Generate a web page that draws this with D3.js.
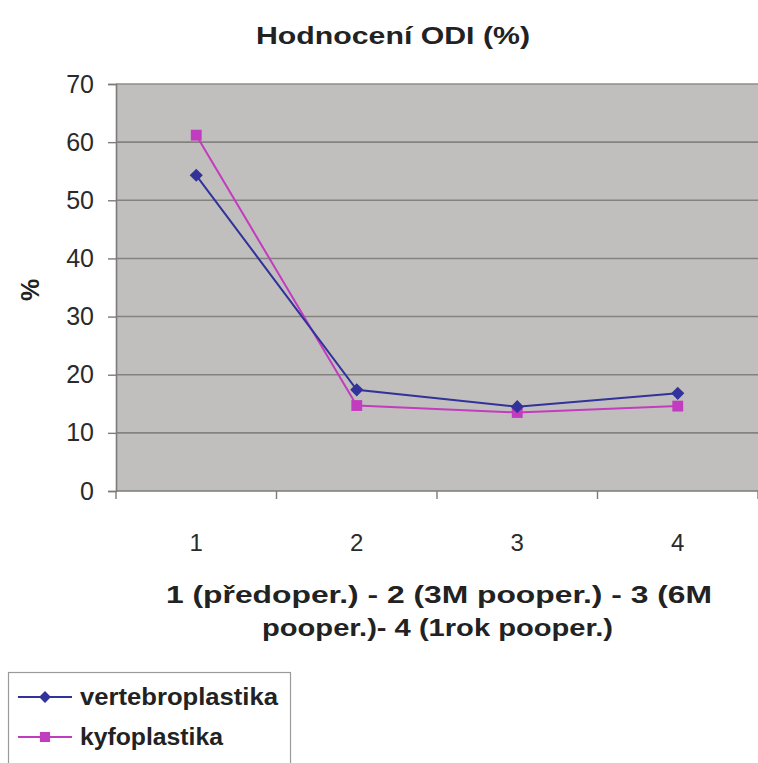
<!DOCTYPE html>
<html>
<head>
<meta charset="utf-8">
<script src="https://cdn.jsdelivr.net/npm/d3@7"></script>
<style>
  html, body { margin: 0; padding: 0; background: #fff; }
  svg { display: block; font-family: "Liberation Sans", Arial, sans-serif; }
</style>
</head>
<body>
<svg id="chart" width="758" height="763"></svg>
<script>
// ODI score (%) at four follow-up points
const categories = ["1", "2", "3", "4"];
const vertebroplastika = [54.3, 17.4, 14.5, 16.8];
const kyfoplastika = [61.2, 14.7, 13.5, 14.6];
const yTicks = [0, 10, 20, 30, 40, 50, 60, 70];
const seriesNames = ["vertebroplastika", "kyfoplastika"];

const svg = d3.select("#chart");
const plot = { left: 116, right: 758, top: 84, bottom: 491 };

const x = d3.scaleBand().domain(categories).range([plot.left, plot.right]);
const y = d3.scaleLinear().domain([0, 70]).range([plot.bottom, plot.top]);

// title (wide, stretched lettering)
svg.append("text")
  .attr("x", 256).attr("y", 44)
  .attr("font-size", 23).attr("font-weight", "bold").attr("fill", "#222")
  .attr("textLength", 274).attr("lengthAdjust", "spacingAndGlyphs")
  .text("Hodnocení ODI (%)");

// plot background
svg.append("rect")
  .attr("x", plot.left).attr("y", plot.top)
  .attr("width", plot.right - plot.left).attr("height", plot.bottom - plot.top)
  .attr("fill", "#c1bfbd");

// horizontal gridlines
svg.append("g").selectAll("line")
  .data(yTicks.filter(d => d > 0))
  .join("line")
  .attr("x1", plot.left).attr("x2", plot.right)
  .attr("y1", d => y(d)).attr("y2", d => y(d))
  .attr("stroke", d => d === 70 ? "#8f8d8b" : "#84827f")
  .attr("stroke-width", 1.6);

// y axis
const yAxis = svg.append("g")
  .attr("transform", `translate(${plot.left},0)`)
  .call(d3.axisLeft(y).tickValues(yTicks).tickSize(8).tickPadding(14).tickFormat(d3.format("d")));
yAxis.select(".domain").attr("stroke", "#7d7b79").attr("stroke-width", 1.6);
yAxis.selectAll(".tick line").attr("stroke", "#7d7b79").attr("stroke-width", 1.4);
yAxis.selectAll(".tick text")
  .attr("font-size", 25).attr("fill", "#2a2a2a")
  .attr("font-family", "Liberation Sans, Arial, sans-serif");

// x axis with ticks between categories
const xAxisG = svg.append("g").attr("transform", `translate(0,${plot.bottom})`);
xAxisG.append("line")
  .attr("x1", plot.left).attr("x2", plot.right)
  .attr("y1", 0).attr("y2", 0)
  .attr("stroke", "#7d7b79").attr("stroke-width", 1.6);
const boundaries = categories.map(c => x(c)).concat([plot.right]);
xAxisG.selectAll("line.tk")
  .data(boundaries)
  .join("line").attr("class", "tk")
  .attr("x1", d => d).attr("x2", d => d)
  .attr("y1", 0).attr("y2", 8)
  .attr("stroke", "#7d7b79").attr("stroke-width", 1.4);
xAxisG.selectAll("text")
  .data(categories)
  .join("text")
  .attr("x", d => x(d) + x.bandwidth() / 2)
  .attr("y", 60)
  .attr("text-anchor", "middle")
  .attr("font-size", 24).attr("fill", "#2a2a2a")
  .text(d => d);

// y axis title
svg.append("text")
  .attr("transform", "translate(39,290) rotate(-90)")
  .attr("text-anchor", "middle")
  .attr("font-size", 25).attr("font-weight", "bold").attr("fill", "#222")
  .text("%");

// x axis title (two lines)
const xTitle = [
  { text: "1 (předoper.) - 2 (3M pooper.) - 3 (6M", x0: 166, len: 546 },
  { text: "pooper.)- 4 (1rok pooper.)", x0: 262, len: 351 }
];
svg.append("g").selectAll("text")
  .data(xTitle)
  .join("text")
  .attr("x", d => d.x0).attr("y", (d, i) => 603 + i * 33)
  .attr("font-size", 23).attr("font-weight", "bold").attr("fill", "#222")
  .attr("textLength", d => d.len).attr("lengthAdjust", "spacingAndGlyphs")
  .text(d => d.text);

// series
const cx = c => x(c) + x.bandwidth() / 2;
const series = [
  { name: seriesNames[0], values: vertebroplastika, color: "#31329a", marker: "diamond", len: 198 },
  { name: seriesNames[1], values: kyfoplastika, color: "#c23cc0", marker: "square", len: 143 }
];
const line = d3.line().x((d, i) => cx(categories[i])).y(d => y(d));
const symbolFor = m => d3.symbol().type(m === "diamond" ? d3.symbolDiamond2 : d3.symbolSquare2);

series.slice().reverse().forEach(s => {
  svg.append("path")
    .datum(s.values)
    .attr("d", line)
    .attr("fill", "none")
    .attr("stroke", s.color)
    .attr("stroke-width", 2);
});
series.slice().reverse().forEach(s => {
  svg.append("g").selectAll("path")
    .data(s.values)
    .join("path")
    .attr("transform", (d, i) => `translate(${cx(categories[i])},${y(d)})`)
    .attr("d", symbolFor(s.marker).size(s.marker === "diamond" ? 110 : 150)())
    .attr("fill", s.color)
    .attr("stroke", "none");
});

// legend
const lg = svg.append("g");
lg.append("rect")
  .attr("x", 8.5).attr("y", 672.5)
  .attr("width", 282).attr("height", 100)
  .attr("fill", "#fff").attr("stroke", "#9a9a9a").attr("stroke-width", 1.2);
series.forEach((s, i) => {
  const ly = 697 + i * 40;
  lg.append("line")
    .attr("x1", 18).attr("x2", 72).attr("y1", ly).attr("y2", ly)
    .attr("stroke", s.color).attr("stroke-width", 2);
  lg.append("path")
    .attr("transform", `translate(45,${ly})`)
    .attr("d", symbolFor(s.marker).size(s.marker === "diamond" ? 90 : 130)())
    .attr("fill", s.color);
  lg.append("text")
    .attr("x", 80).attr("y", ly + 8)
    .attr("font-size", 23).attr("font-weight", "bold").attr("fill", "#222")
    .attr("textLength", s.len).attr("lengthAdjust", "spacingAndGlyphs")
    .text(s.name);
});
</script>
</body>
</html>
